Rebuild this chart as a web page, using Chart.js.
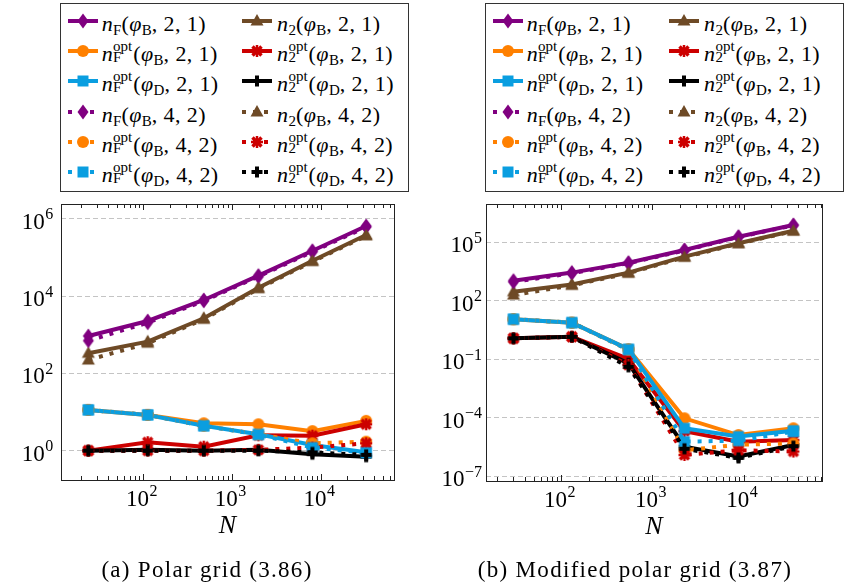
<!DOCTYPE html>
<html><head><meta charset="utf-8">
<script src="https://cdn.jsdelivr.net/npm/chart.js@4.4.1/dist/chart.umd.min.js"></script>
<style>
html,body{margin:0;padding:0;background:#fff;}
body{width:846px;height:587px;position:relative;overflow:hidden;font-family:'Liberation Serif',serif;color:#000;}
canvas.chart{position:absolute;top:0;}
.legend{position:absolute;top:3px;height:189px;border:1px solid #333;box-sizing:border-box;background:#fff;}
.sample{position:absolute;width:30px;height:20px;}
.lt{position:absolute;font-size:22px;line-height:26px;height:26px;white-space:nowrap;letter-spacing:0.4px;}
.lt i{font-style:italic;}
.lt sub{font-size:15px;vertical-align:-4px;line-height:0;letter-spacing:0;}
.st{display:inline-flex;flex-direction:column;font-size:15px;line-height:11px;vertical-align:10px;letter-spacing:0;margin-right:1px;}
.cap{position:absolute;top:557px;font-size:23px;white-space:nowrap;text-align:center;letter-spacing:1.3px;}
</style>
</head><body>
<canvas id="ca" class="chart" width="423" height="587" style="left:0"></canvas>
<canvas id="cb" class="chart" width="423" height="587" style="left:423px"></canvas>
<div id="lega" class="legend" style="left:60px;width:349px"></div>
<div id="legb" class="legend" style="left:485px;width:359px"></div>
<div class="cap" style="left:0;width:414px">(a) Polar grid (3.86)</div>
<div class="cap" style="left:428px;width:414px">(b) Modified polar grid (3.87)</div>
<script>
// ---------- data: (a) polar grid ----------
const N_a = [24, 112, 480, 1984, 8064, 32512];
const nF_B21_a    = [925, 2260, 7900, 33600, 148000, 646000];
const n2_B21_a    = [330, 660, 2650, 16400, 82000, 378000];
const nFopt_B21_a = [11.3, 8.4, 5.1, 4.8, 3.2, 5.9];
const n2opt_B21_a = [1.0, 1.65, 1.27, 2.5, 2.44, 4.8];
const nFopt_D21_a = [11.3, 8.4, 4.4, 2.65, 1.4, 0.91];
const n2opt_D21_a = [1.0, 1.05, 1.0, 1.05, 0.81, 0.70];
const nF_B42_a    = [700, 2040, 7500, 32000, 140000, 610000];
const n2_B42_a    = [221, 600, 2500, 15500, 78000, 360000];
const nFopt_B42_a = [11.3, 8.4, 4.4, 2.65, 1.55, 1.71];
const n2opt_B42_a = [1.0, 1.0, 1.0, 1.05, 1.2, 1.55];
const nFopt_D42_a = [11.3, 8.4, 4.4, 2.6, 1.2, 0.88];
const n2opt_D42_a = [1.0, 1.0, 1.0, 1.0, 0.9, 0.78];

// ---------- data: (b) modified polar grid ----------
const N_b = [30, 131, 547, 2250, 8790, 35200];
const nF_B21_b    = [1040, 2700, 8700, 39000, 187000, 740000];
const n2_B21_b    = [280, 670, 2700, 17700, 86000, 380000];
const nFopt_B21_b = [11, 7.3, 0.32, 9.1e-5, 1.26e-5, 2.8e-5];
const n2opt_B21_b = [1.15, 1.38, 0.1, 2e-5, 5.8e-6, 7e-6];
const nFopt_D21_b = [11, 7.3, 0.32, 2.8e-5, 1.05e-5, 2.1e-5];
const n2opt_D21_b = [1.15, 1.38, 0.06, 3.2e-6, 1e-6, 3.9e-6];
const nF_B42_b    = [900, 2500, 8200, 37000, 180000, 720000];
const n2_B42_b    = [190, 600, 2500, 16500, 82000, 360000];
const nFopt_B42_b = [11, 7.3, 0.3, 2.1e-6, 4e-6, 4.7e-6];
const n2opt_B42_b = [1.15, 1.38, 0.05, 1.2e-6, 2.1e-6, 1.8e-6];
const nFopt_D42_b = [11, 7.3, 0.3, 5.8e-6, 6.5e-6, 1.9e-5];
const n2opt_D42_b = [1.15, 1.38, 0.04, 2.5e-6, 8.5e-7, 3.4e-6];

// ---------- ticks ----------
const xTicks = [1e2, 1e3, 1e4];
const yTicks_a = [1, 1e2, 1e4, 1e6];
const yTicks_b = [1e-7, 1e-4, 1e-1, 1e2, 1e5];
const xRange_a = [11.8, 67000], yRange_a = [0.174, 2.4e6];
const xRange_b = [15.0, 72400], yRange_b = [5.55e-8, 8.9e6];

// ---------- series styles ----------
const PURPLE='#800080', BROWN='#6e4a26', ORANGE='#ff8000', RED='#cc0000', BLUE='#0a9ee0', BLACK='#000000';
const seriesKinds = ['nF','n2','nFopt','n2opt','nFopt','n2opt','nF','n2','nFopt','n2opt','nFopt','n2opt'];
const seriesPhi   = ['B','B','B','B','D','D','B','B','B','B','D','D'];
const seriesArgs  = ['2,1','2,1','2,1','2,1','2,1','2,1','4,2','4,2','4,2','4,2','4,2','4,2'];
const seriesColor = [PURPLE,BROWN,ORANGE,RED,BLUE,BLACK,PURPLE,BROWN,ORANGE,RED,BLUE,BLACK];
const seriesMark  = ['diamond','triangle','circle','star','square','plus','diamond','triangle','circle','star','square','plus'];
const seriesDot   = [false,false,false,false,false,false,true,true,true,true,true,true];

const values_a = [nF_B21_a,n2_B21_a,nFopt_B21_a,n2opt_B21_a,nFopt_D21_a,n2opt_D21_a,nF_B42_a,n2_B42_a,nFopt_B42_a,n2opt_B42_a,nFopt_D42_a,n2opt_D42_a];
const values_b = [nF_B21_b,n2_B21_b,nFopt_B21_b,n2opt_B21_b,nFopt_D21_b,n2opt_D21_b,nF_B42_b,n2_B42_b,nFopt_B42_b,n2opt_B42_b,nFopt_D42_b,n2opt_D42_b];

const DASH = [4, 7];
const LW = 4;
const FAMILY = "'Liberation Serif', serif";
Chart.defaults.font.family = FAMILY;
Chart.defaults.color = '#000';

function marker(shape, color) {
  const c = document.createElement('canvas'); c.width = 20; c.height = 20;
  const g = c.getContext('2d'); g.fillStyle = color; g.strokeStyle = color;
  const cx = 10, cy = 10;
  g.beginPath();
  if (shape === 'diamond') { g.moveTo(cx, cy-7.5); g.lineTo(cx+5.5, cy); g.lineTo(cx, cy+7.5); g.lineTo(cx-5.5, cy); g.closePath(); g.fill(); }
  else if (shape === 'triangle') { g.moveTo(cx, cy-7); g.lineTo(cx+6.5, cy+4.5); g.lineTo(cx-6.5, cy+4.5); g.closePath(); g.fill(); }
  else if (shape === 'circle') { g.arc(cx, cy, 6, 0, 2*Math.PI); g.fill(); }
  else if (shape === 'square') { g.rect(cx-5.5, cy-5.5, 11, 11); g.fill(); }
  else if (shape === 'star') {
    g.lineWidth = 3.5; g.moveTo(cx-4.5, cy-4.5); g.lineTo(cx+4.5, cy+4.5); g.moveTo(cx+4.5, cy-4.5); g.lineTo(cx-4.5, cy+4.5); g.stroke();
    g.beginPath(); g.lineWidth = 2.5; g.moveTo(cx, cy-6); g.lineTo(cx, cy+6); g.moveTo(cx-6, cy); g.lineTo(cx+6, cy); g.stroke();
  }
  else if (shape === 'plus') { g.lineWidth = 4; g.moveTo(cx-5.5, cy); g.lineTo(cx+5.5, cy); g.moveTo(cx, cy-5.5); g.lineTo(cx, cy+5.5); g.stroke(); }
  return c;
}

function labelHTML(k) {
  const kind = seriesKinds[k];
  let head;
  if (kind === 'nF') head = '<i>n</i><sub>F</sub>';
  else if (kind === 'n2') head = '<i>n</i><sub>2</sub>';
  else if (kind === 'nFopt') head = '<i>n</i><span class="st"><span>opt</span><span>F</span></span>';
  else head = '<i>n</i><span class="st"><span>opt</span><span>2</span></span>';
  const a = seriesArgs[k].split(',');
  return head + '(<i>φ</i><sub>' + seriesPhi[k] + '</sub>, ' + a[0] + ', ' + a[1] + ')';
}

function expOf(v) { return String(Math.round(Math.log10(v))).replace('-', '\u2212'); }

// draws inward minor/major x ticks and the axis box
const framePlugin = {
  id: 'frame',
  afterDraw(chart) {
    const {ctx, chartArea: a} = chart;
    const xs = chart.scales.x;
    ctx.save();
    ctx.strokeStyle = '#222'; ctx.lineWidth = 1;
    const lo = Math.floor(Math.log10(xs.min)), hi = Math.ceil(Math.log10(xs.max));
    ctx.beginPath();
    for (let e = lo; e <= hi; e++) for (let m = 1; m <= 9; m++) {
      const v = m * Math.pow(10, e);
      if (v < xs.min || v > xs.max) continue;
      const px = Math.round(xs.getPixelForValue(v)) + 0.5;
      const len = m === 1 ? 6 : 4;
      ctx.moveTo(px, a.bottom); ctx.lineTo(px, a.bottom - len);
      ctx.moveTo(px, a.top); ctx.lineTo(px, a.top + len);
    }
    ctx.stroke();
    ctx.strokeRect(Math.round(a.left) + 0.5, Math.round(a.top) + 0.5, Math.round(a.right - a.left), Math.round(a.bottom - a.top));
    ctx.restore();
  }
};

// tick labels of the form 10^e, placed with the scales' own mapping
const powLabelPlugin = {
  id: 'powlabels',
  afterDraw(chart, args, opts) {
    const {ctx, chartArea: a} = chart;
    const xs = chart.scales.x, ys = chart.scales.y;
    const big = "23px 'Liberation Serif', serif", small = "16px 'Liberation Serif', serif";
    ctx.save(); ctx.fillStyle = '#000'; ctx.textBaseline = 'alphabetic'; ctx.textAlign = 'left';
    for (const t of ys.ticks) {
      const py = ys.getPixelForValue(t.value), e = expOf(t.value);
      ctx.font = small; const ew = ctx.measureText(e).width;
      ctx.font = big; const mw = ctx.measureText('10').width;
      const xr = a.left - opts.yPad;
      ctx.fillText('10', xr - ew - mw - 0.5, py + 10);
      ctx.font = small; ctx.fillText(e, xr - ew, py + 0.5);
    }
    for (const t of xs.ticks) {
      const px = xs.getPixelForValue(t.value), e = expOf(t.value);
      ctx.font = small; const ew = ctx.measureText(e).width;
      ctx.font = big; const mw = ctx.measureText('10').width;
      const x0 = px - 1.5 - (mw + ew + 0.5) / 2;
      ctx.fillText('10', x0, a.bottom + 26);
      ctx.font = small; ctx.fillText(e, x0 + mw + 0.5, a.bottom + 16);
    }
    ctx.restore();
  }
};

const markers = seriesMark.map((m, i) => marker(m, seriesColor[i]));

function makeChart(id, N, values, xRange, yRange, yTicks, pad, yWidth, yPad) {
  const datasets = values.map((vals, i) => ({
    label: String(i),
    data: N.map((x, j) => ({x: x, y: vals[j]})),
    borderColor: seriesColor[i],
    backgroundColor: seriesColor[i],
    borderWidth: LW,
    borderDash: seriesDot[i] ? DASH : [],
    pointStyle: markers[i],
    pointRadius: 6,
    tension: 0,
    fill: false,
    order: 100 - i
  }));
  return new Chart(document.getElementById(id), {
    type: 'line',
    data: {datasets},
    plugins: [framePlugin, powLabelPlugin],
    options: {
      responsive: false, animation: false,
      layout: {padding: pad},
      plugins: {legend: {display: false}, tooltip: {enabled: false}, powlabels: {yPad}},
      scales: {
        x: {
          type: 'logarithmic', min: xRange[0], max: xRange[1],
          afterBuildTicks: s => { s.ticks = xTicks.map(v => ({value: v})); },
          afterFit: s => { s.height = 64; },
          ticks: {display: false},
          grid: {display: false, drawTicks: false},
          border: {display: false},
          title: {display: true, text: 'N', color: '#000', padding: {top: 0, bottom: 2}, font: {family: FAMILY, size: 26, style: 'italic'}}
        },
        y: {
          type: 'logarithmic', min: yRange[0], max: yRange[1],
          afterBuildTicks: s => { s.ticks = yTicks.map(v => ({value: v})); },
          afterFit: s => { s.width = yWidth; },
          ticks: {display: false},
          grid: {color: '#c4c4c4', lineWidth: 1, drawTicks: false},
          border: {display: false, dash: [5, 3]}
        }
      }
    }
  });
}

makeChart('ca', N_a, values_a, xRange_a, yRange_a, yTicks_a, {left: 0, top: 204, right: 29, bottom: 43}, 61, 7.7);
makeChart('cb', N_b, values_b, xRange_b, yRange_b, yTicks_b, {left: 0, top: 204, right: 24, bottom: 42}, 63, 4);

function buildLegend(id, col2Sample) {
  const box = document.getElementById(id);
  for (let k = 0; k < 12; k++) {
    const row = Math.floor(k / 2), col = k % 2;
    const cy = 17 + row * 30.2;
    const sx = col === 0 ? 6.7 : col2Sample;
    const tx = col === 0 ? 40.7 : col2Sample + 35.3;
    const c = document.createElement('canvas'); c.width = 30; c.height = 20; c.className = 'sample';
    c.style.left = sx + 'px'; c.style.top = (cy - 10) + 'px';
    const g = c.getContext('2d');
    g.strokeStyle = seriesColor[k]; g.lineWidth = LW; g.setLineDash(seriesDot[k] ? DASH : []);
    g.beginPath(); g.moveTo(0, 10); g.lineTo(30, 10); g.stroke();
    g.drawImage(markers[k], 5, 0);
    box.appendChild(c);
    const t = document.createElement('div'); t.className = 'lt';
    t.style.left = tx + 'px'; t.style.top = (cy - 10) + 'px';
    t.innerHTML = labelHTML(k);
    box.appendChild(t);
  }
}
buildLegend('lega', 180.7);
buildLegend('legb', 182.7);
</script>
</body></html>
